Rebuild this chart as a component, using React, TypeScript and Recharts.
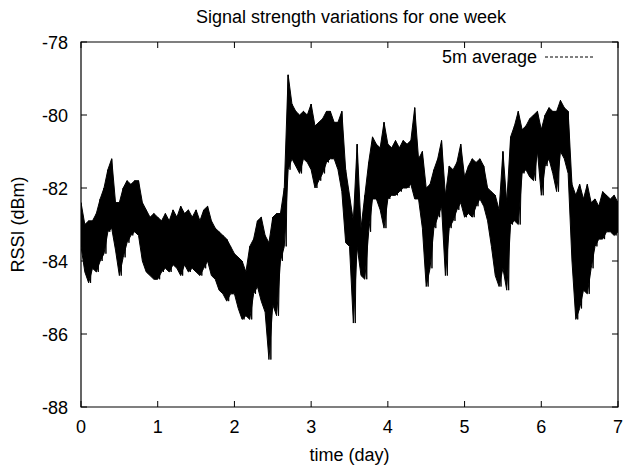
import React from 'react';
import { ComposedChart, Area, Line, XAxis, YAxis, ReferenceArea } from 'recharts';

// 5-minute averaged RSSI over one week, read as upper/lower swings every 0.05 day
const SAMPLE_STEP = 0.05;

const highs = [
  -82.4, -83.0, -82.9, -82.9, -82.7, -82.3, -82.0, -81.5, -81.2, -82.4,
  -82.4, -82.0, -81.8, -81.9, -81.8, -81.8, -82.4, -82.6, -82.8, -82.7,
  -82.8, -82.9, -82.7, -82.9, -82.6, -82.8, -82.5, -82.7, -82.6, -82.8,
  -82.6, -82.9, -82.6, -82.5, -82.9, -83.1, -83.2, -83.3, -83.4, -83.6,
  -83.8, -83.9, -84.0, -84.3, -83.6, -83.4, -82.9, -82.8, -83.3, -83.5,
  -82.8, -82.7, -82.7, -82.0, -78.9, -79.7, -79.9, -80.0, -79.9, -80.0,
  -79.7, -80.3, -80.2, -80.1, -79.9, -79.9, -80.2, -80.2, -79.9, -81.5,
  -82.2, -82.9, -80.8, -83.1, -82.2, -81.3, -80.6, -80.8, -80.9, -80.2,
  -80.8, -80.9, -80.7, -80.9, -80.7, -80.8, -80.7, -79.8, -81.2, -81.0,
  -82.0, -81.9, -81.5, -81.2, -80.7, -82.2, -81.4, -81.5, -81.3, -80.8,
  -81.7, -81.4, -81.2, -81.3, -81.2, -81.4, -82.0, -82.1, -82.2, -82.6,
  -81.0, -82.4, -80.6, -80.3, -79.9, -80.4, -80.3, -80.1, -80.0, -79.9,
  -80.4, -80.0, -79.8, -79.9, -79.9, -79.6, -79.8, -79.9, -81.9, -82.2,
  -81.9, -82.3, -81.9, -82.4, -82.3, -82.5, -82.1, -82.2, -82.3, -82.2,
  -82.4,
];

const lows = [
  -83.6, -84.3, -84.6, -84.2, -84.3, -84.0, -83.8, -83.2, -83.1, -83.7,
  -84.4, -83.9, -83.5, -83.3, -83.2, -83.3, -84.0, -84.3, -84.4, -84.5,
  -84.5, -84.3, -84.2, -84.3, -84.1, -84.2, -84.4, -84.1, -84.3, -84.2,
  -84.3, -84.4, -84.2, -84.0, -84.4, -84.5, -84.8, -84.9, -85.1, -84.9,
  -84.9, -85.3, -85.6, -85.5, -85.6, -84.9, -84.7, -85.1, -85.4, -86.7,
  -85.2, -85.5, -84.0, -83.6, -81.5, -81.2, -81.4, -81.6, -81.2, -81.3,
  -81.5, -82.0, -81.8, -81.6, -81.3, -81.2, -81.2, -81.5, -82.1, -83.5,
  -83.6, -85.7, -83.6, -84.4, -84.5, -83.2, -82.3, -82.3, -82.6, -83.1,
  -82.3, -82.2, -82.2, -82.1, -82.0, -82.0, -81.9, -82.3, -82.3, -83.1,
  -84.7, -84.2, -83.1, -82.8, -82.5, -84.4, -83.1, -82.9, -82.6, -82.4,
  -82.8, -82.7, -82.8, -82.5, -82.3, -82.5, -82.9, -83.6, -84.4, -84.7,
  -84.2, -84.8, -83.0, -82.9, -83.0, -81.6, -81.5, -81.7, -81.8, -81.0,
  -82.2, -81.4, -81.2, -81.6, -82.1, -81.0, -81.2, -81.6, -84.0, -85.6,
  -85.3, -84.8, -84.9, -84.2, -83.6, -83.4, -83.4, -83.2, -83.2, -83.3,
  -83.2,
];

const dayTicks = [0, 1, 2, 3, 4, 5, 6, 7];
const rssiTicks = [-88, -86, -84, -82, -80, -78];

// band between the swings, plus the zig-zag trace running through it
const bandData = highs.map((h, i) => ({ t: i * SAMPLE_STEP, band: [lows[i], h] }));
const traceData = highs.flatMap((h, i) => [
  { t: i * SAMPLE_STEP, rssi: h },
  { t: i * SAMPLE_STEP + SAMPLE_STEP / 2, rssi: lows[i] },
]);

const FONT = '"Liberation Sans", Arial, sans-serif';
const FS = 18;
const W = 624;
const H = 468;
const PLOT_TOP = 42;
const PLOT_BOTTOM = 407;
const PLOT_LEFT = 81;
const PLOT_RIGHT = 618;

const XTick = ({ x, payload }: any) => (
  <g>
    <line x1={x} x2={x} y1={PLOT_BOTTOM} y2={PLOT_BOTTOM - 6} stroke="#000" />
    <line x1={x} x2={x} y1={PLOT_TOP} y2={PLOT_TOP + 6} stroke="#000" />
    <text x={x} y={PLOT_BOTTOM + 26} textAnchor="middle" fontSize={FS} fontFamily={FONT} fill="#000">
      {payload.value}
    </text>
  </g>
);

const YTick = ({ y, payload }: any) => (
  <g>
    <line x1={PLOT_LEFT} x2={PLOT_LEFT + 6} y1={y} y2={y} stroke="#000" />
    <line x1={PLOT_RIGHT} x2={PLOT_RIGHT - 6} y1={y} y2={y} stroke="#000" />
    <text x={PLOT_LEFT - 13} y={y + 6.5} textAnchor="end" fontSize={FS} fontFamily={FONT} fill="#000">
      {payload.value}
    </text>
  </g>
);

export default function App() {
  const midY = (PLOT_TOP + PLOT_BOTTOM) / 2;
  const midX = (PLOT_LEFT + PLOT_RIGHT) / 2;
  return (
    <div style={{ position: 'absolute', left: 0, top: 0, width: W, height: H, background: '#fff' }}>
      <ComposedChart
        width={W}
        height={H}
        data={bandData}
        margin={{ top: PLOT_TOP, right: W - PLOT_RIGHT, bottom: H - PLOT_BOTTOM - 40, left: 0 }}
      >
        <text x={351} y={23} textAnchor="middle" fontSize={FS} fontFamily={FONT} fill="#000">
          Signal strength variations for one week
        </text>
        <text x={midX} y={461} textAnchor="middle" fontSize={FS} fontFamily={FONT} fill="#000">
          time (day)
        </text>
        <text
          x={24}
          y={midY}
          textAnchor="middle"
          fontSize={FS}
          fontFamily={FONT}
          fill="#000"
          transform={`rotate(-90 24 ${midY})`}
        >
          RSSI (dBm)
        </text>
        <XAxis
          type="number"
          dataKey="t"
          domain={[0, 7]}
          ticks={dayTicks}
          allowDataOverflow
          axisLine={false}
          tickLine={false}
          tick={<XTick />}
          height={40}
        />
        <YAxis
          type="number"
          domain={[-88, -78]}
          ticks={rssiTicks}
          allowDataOverflow
          axisLine={false}
          tickLine={false}
          tick={<YTick />}
          width={PLOT_LEFT}
        />
        <ReferenceArea x1={0} x2={7} y1={-88} y2={-78} fill="none" stroke="#000" strokeWidth={1.2} />
        <Area
          type="linear"
          dataKey="band"
          stroke="#000"
          strokeWidth={1}
          fill="#000"
          fillOpacity={1}
          isAnimationActive={false}
        />
        <Line
          type="linear"
          data={traceData}
          dataKey="rssi"
          stroke="#000"
          strokeWidth={1}
          dot={false}
          isAnimationActive={false}
        />
      </ComposedChart>
      <div
        style={{
          position: 'absolute',
          top: 47,
          left: 442,
          display: 'flex',
          alignItems: 'center',
          fontFamily: FONT,
          fontSize: FS,
          lineHeight: '20px',
          color: '#000',
          whiteSpace: 'nowrap',
        }}
      >
        <span>5m average</span>
        <svg width={50} height={10} style={{ marginLeft: 8 }}>
          <line x1={0} x2={49} y1={5} y2={5} stroke="#000" strokeDasharray="3 2" />
        </svg>
      </div>
    </div>
  );
}
